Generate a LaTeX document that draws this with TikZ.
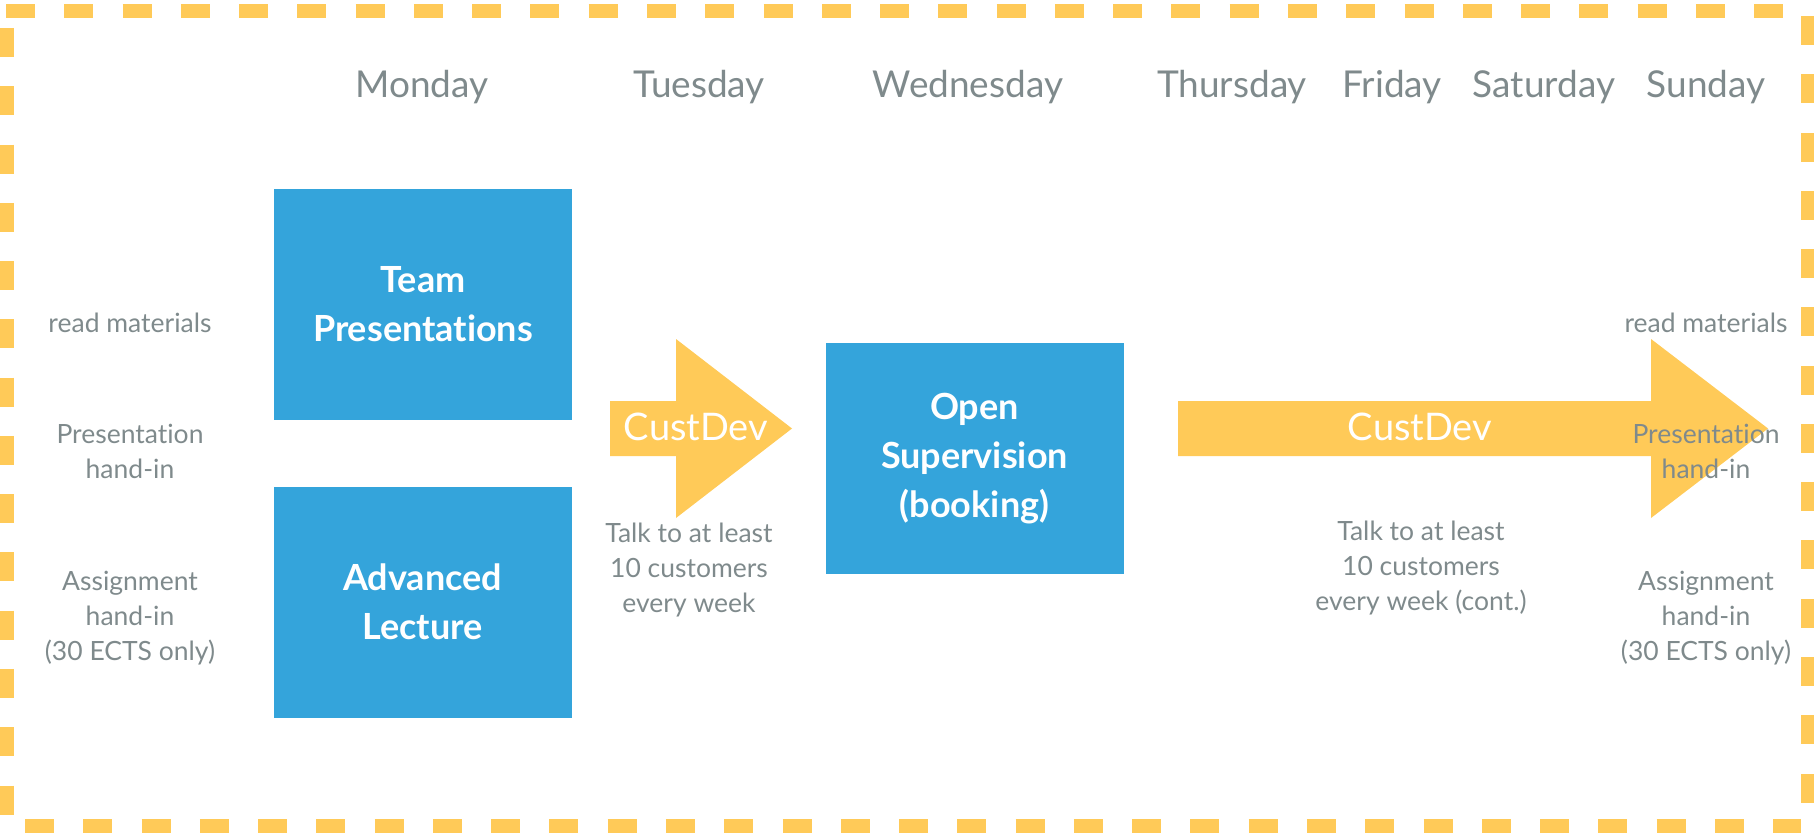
\documentclass[tikz,border=0pt]{standalone}
\usepackage{fontspec}
\setmainfont{Lato}[Ligatures=NoCommon]
\usetikzlibrary{positioning,calc}
\definecolor{SlotBlue}{RGB}{52,164,219}
\definecolor{CustYellow}{RGB}{255,202,88}
\definecolor{NoteGray}{RGB}{127,138,140}

\begin{document}
\begin{tikzpicture}[x=1pt,y=-1pt,
    dayname/.style={anchor=base,text=NoteGray,inner sep=0pt,font=\fontsize{37}{37}\selectfont},
    slot/.style={fill=SlotBlue,text=white,minimum width=298pt,minimum height=231pt,
      align=center,inner sep=0pt,font=\bfseries\fontsize{36}{49}\selectfont},
    note/.style={anchor=base,align=center,text=NoteGray,inner sep=0pt,font=\fontsize{26.5}{35}\selectfont},
    arrowlabel/.style={text=white,inner sep=0pt,font=\fontsize{38}{38}\selectfont},
    border/.style={draw=CustYellow,line width=14pt,dash pattern=on 29pt off 29.27pt}]
  \useasboundingbox (0,0) rectangle (1814,834);

  % dashed frame, side by side
  \draw[border] (6,11.5) -- (1783,11.5);
  \draw[border] (6.5,28) -- (6.5,815);
  \draw[border] (25,825.5) -- (1801,825.5);
  \draw[border] (1807.5,16) -- (1807.5,803);

  % week header
  \foreach \d/\x in {Monday/422,Tuesday/699,Wednesday/968,Thursday/1232,
                     Friday/1392,Saturday/1544,Sunday/1706} {
    \node[dayname] (\d) at (\x,98) {\d};
  }

  % customer development arrows
  \fill[CustYellow] (610,401) -- (676,401) -- (676,339) -- (792,428.5)
    -- (676,518) -- (676,456) -- (610,456) -- cycle;
  \fill[CustYellow] (1178,401) -- (1651,401) -- (1651,339) -- (1768,428.5)
    -- (1651,518) -- (1651,456) -- (1178,456) -- cycle;
  \node[arrowlabel] (custdevTue) at (696,427) {CustDev};
  \node[arrowlabel] (custdevWeek) at (1420,427) {CustDev};

  % sessions
  \node[slot] (team) at (423,304.5) {Team\\Presentations};
  \node[slot] (lecture) at (422.5,602) {Advanced\\Lecture};
  \node[slot] (supervision) at (974.5,458.5) {Open\\Supervision\\(booking)};

  % deadlines, start and end of the week (base = last line)
  \foreach \s/\x in {Mon/130,Sun/1706} {
    \node[note] (read\s) at (\x,332) {read materials};
    \node[note] (pres\s) at (\x,478) {Presentation\\hand-in};
    \node[note] (assign\s) at (\x,660) {Assignment\\hand-in\\(30 ECTS only)};
  }
  \node[note] (talkTue) at (689,612) {Talk to at least\\10 customers\\every week};
  \node[note] (talkWeek) at (1421,610) {Talk to at least\\10 customers\\every week (cont.)};
\end{tikzpicture}
\end{document}
